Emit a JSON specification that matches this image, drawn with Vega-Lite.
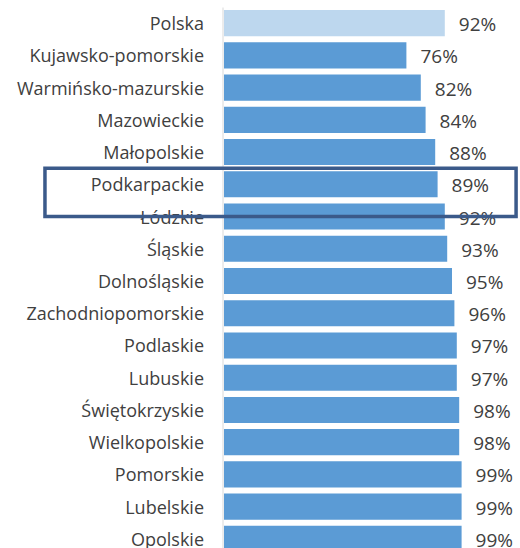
{
  "$schema": "https://vega.github.io/schema/vega-lite/v6.json",
  "width": 240,
  "height": 548,
  "autosize": {"type": "none"},
  "padding": {"left": 224, "top": 7, "right": 56, "bottom": 0},
  "background": "white",
  "config": {"view": {"stroke": null}},
  "resolve": {"scale": {"y": "independent"}},
  "layer": [
    {
      "data": {
        "values": [
          {"name": "Polska", "value": 0.92},
          {"name": "Kujawsko-pomorskie", "value": 0.76},
          {"name": "Warmińsko-mazurskie", "value": 0.82},
          {"name": "Mazowieckie", "value": 0.84},
          {"name": "Małopolskie", "value": 0.88},
          {"name": "Podkarpackie", "value": 0.89},
          {"name": "Łódzkie", "value": 0.92},
          {"name": "Śląskie", "value": 0.93},
          {"name": "Dolnośląskie", "value": 0.95},
          {"name": "Zachodniopomorskie", "value": 0.96},
          {"name": "Podlaskie", "value": 0.97},
          {"name": "Lubuskie", "value": 0.97},
          {"name": "Świętokrzyskie", "value": 0.98},
          {"name": "Wielkopolskie", "value": 0.98},
          {"name": "Pomorskie", "value": 0.99},
          {"name": "Lubelskie", "value": 0.99},
          {"name": "Opolskie", "value": 0.99}
        ]
      },
      "encoding": {
        "y": {
          "field": "name",
          "type": "nominal",
          "sort": null,
          "scale": {"paddingInner": 0.19, "paddingOuter": 0.095},
          "axis": {
            "title": null,
            "ticks": false,
            "domainColor": "#D9D9D9",
            "domainWidth": 1,
            "offset": 1.5,
            "labelPadding": 19,
            "labelLimit": 400,
            "labelOffset": 2,
            "labelFont": "Open Sans",
            "labelFontSize": 18,
            "labelColor": "#404040"
          }
        },
        "x": {
          "field": "value",
          "type": "quantitative",
          "scale": {"domain": [0, 1]},
          "axis": null
        }
      },
      "layer": [
        {
          "mark": {"type": "bar"},
          "encoding": {
            "color": {
              "condition": {"test": "datum.name === 'Polska'", "value": "#BDD7EE"},
              "value": "#5B9BD5"
            }
          }
        },
        {
          "mark": {
            "type": "text",
            "align": "left",
            "baseline": "middle",
            "dx": 14,
            "dy": 2,
            "font": "Open Sans",
            "fontSize": 19,
            "color": "#404040"
          },
          "encoding": {
            "text": {"field": "value", "type": "quantitative", "format": ".0%"}
          }
        }
      ]
    },
    {
      "data": {"values": [{"top": 5, "bottom": 6.5, "left": -0.746, "right": 1.217}]},
      "mark": {"type": "rect", "filled": false, "stroke": "#3B5A8A", "strokeWidth": 3.5, "clip": false},
      "encoding": {
        "y": {"field": "top", "type": "quantitative", "scale": {"domain": [0, 17.0], "reverse": true, "nice": false, "zero": false}, "axis": null},
        "y2": {"field": "bottom"},
        "x": {"field": "left", "type": "quantitative"},
        "x2": {"field": "right"}
      }
    }
  ]
}
